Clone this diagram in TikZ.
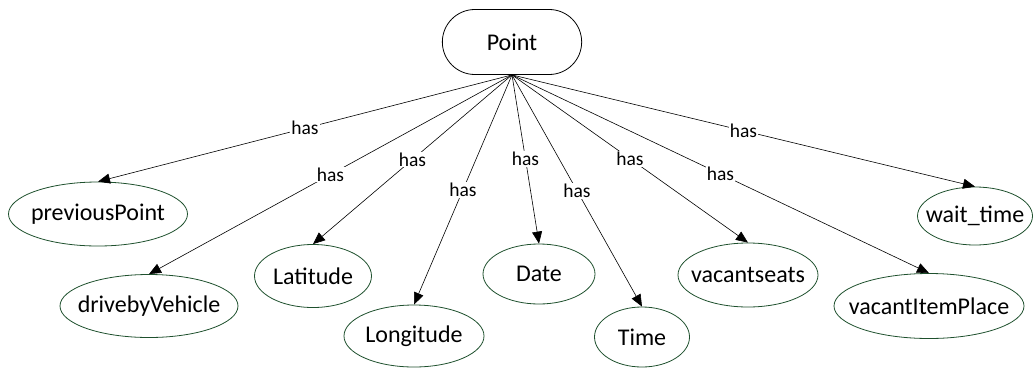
\documentclass[tikz,border=0pt]{standalone}
\usepackage{fontspec}
\setmainfont{Carlito}
\usetikzlibrary{shapes.geometric,shapes.misc,arrows.meta}
\definecolor{ellgreen}{RGB}{30,80,45}
\newcommand{\zw}[1]{\makebox[0pt]{#1}}
\tikzset{
  ent/.style={ellipse, draw=ellgreen, line width=0.8pt, inner sep=0pt, font=\fontsize{24}{28}\selectfont},
  top/.style={rounded rectangle, draw=black, line width=0.8pt, minimum width=146pt, minimum height=65pt, font=\fontsize{24}{28}\selectfont},
  rel/.style={-{Triangle[length=12pt,width=10pt]}, line width=0.6pt},
  lbl/.style={fill=white, inner sep=1pt, font=\fontsize{19.5}{22}\selectfont, midway}
}
\begin{document}
\begin{tikzpicture}[x=1pt,y=-1pt]
\useasboundingbox (0,0) rectangle (1035,367);
\node[top] (P) at (512,42) {Point};
\node[ent, minimum width=179pt, minimum height=64pt] (pp) at (98,214) {\zw{previousPoint}};
\node[ent, minimum width=178pt, minimum height=63pt] (dv) at (149,306) {\zw{drivebyVehicle}};
\node[ent, minimum width=117pt, minimum height=63pt] (la) at (313,276) {\zw{Latitude}};
\node[ent, minimum width=140pt, minimum height=62pt] (lo) at (414,336) {\zw{Longitude}};
\node[ent, minimum width=112pt, minimum height=60pt] (da) at (539,274) {\zw{Date}};
\node[ent, minimum width=95pt, minimum height=60pt] (ti) at (642,337) {\zw{Time}};
\node[ent, minimum width=140pt, minimum height=64pt] (vs) at (748,275) {\zw{vacantseats}};
\node[ent, minimum width=190pt, minimum height=65pt] (vi) at (929,306) {\zw{vacantItemPlace}};
\node[ent, minimum width=115pt, minimum height=58pt] (wt) at (975,216) {\zw{wait\_time}};
\foreach \t in {pp,dv,la,lo,da,ti,vs,vi,wt}
  \draw[rel] (P.south) -- node[lbl] {has} (\t.north);
\end{tikzpicture}
\end{document}
